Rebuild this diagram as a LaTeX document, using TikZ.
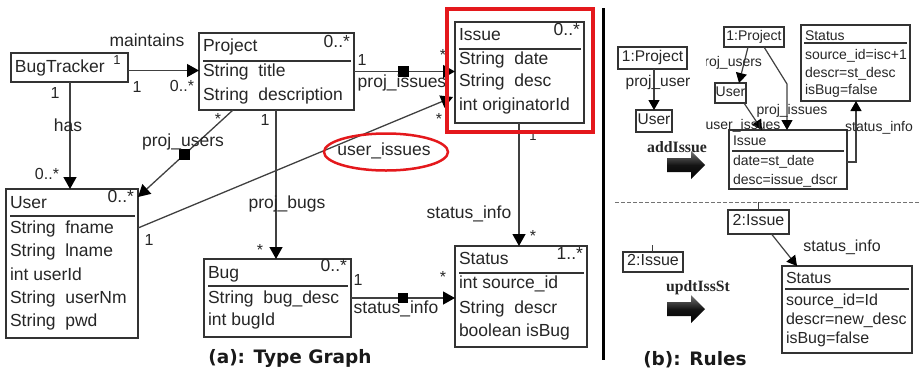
\documentclass[tikz,border=0pt]{standalone}
\usepackage{fontspec}
\setmainfont{Liberation Sans}
\newfontfamily\capfont{DejaVu Sans}
\newfontfamily\rulefont{Liberation Serif}
\usetikzlibrary{arrows.meta,calc,shapes.geometric}

\newcommand\fsz[1]{\fontsize{#1pt}{#1pt}\selectfont}
\newcommand\gap{\hspace{0.55em}}
\definecolor{mark}{RGB}{228,24,28}

\begin{document}
\begin{tikzpicture}[x=1pt,y=-1pt,
  box/.style={draw=black!80, line width=1.3pt, inner sep=0pt, outer sep=0pt,
              anchor=north west, fill=white},
  rbox/.style={draw=black!80, line width=1.2pt, inner sep=0pt, outer sep=0pt,
               fill=white, text=black!85, text height=0.72em, text depth=0pt},
  sepline/.style={draw=black!80, line width=1.2pt},
  txt/.style={inner sep=0pt, outer sep=0pt, text height=0.72em, text depth=0pt,
              text=black!85, font=\fsz{17.5}},
  mult/.style={txt, font=\fsz{16}},
  rtxt/.style={txt, font=\fsz{14}},
  btxt/.style={txt, font=\fsz{16}},
  assoc/.style={draw=black!75, line width=1.3pt,
                -{Triangle[length=12pt,width=13pt,fill=black,color=black]}},
  rarr/.style={draw=black!75, line width=1.2pt,
               -{Triangle[length=10pt,width=11pt,fill=black,color=black]}},
  sq/.style={fill=black, inner sep=0pt, minimum size=10.5pt},
  fat/.style={top color=black!55, bottom color=black, middle color=black!92},
  caption/.style={inner sep=0pt, font=\capfont\bfseries\fsz{18.5}, text=black!90}
]
\useasboundingbox (0,0) rectangle (919,373);

% ---------------- (a) type graph: classes ----------------
% BugTracker
\node[box, minimum width=117pt, minimum height=29pt] (bt) at (11,53) {};
\node[txt, anchor=west] (bt-t) at (15,69) {BugTracker};

% Project
\node[box, minimum width=155pt, minimum height=77pt] (pj) at (199,33) {};
\node[txt, anchor=west] (pj-t) at (203,48) {Project};
\node[txt, anchor=east] (pj-m) at (350,44) {0..*};
\draw[sepline] (203,61) -- (351,61);
\node[txt, anchor=west] (pj-1) at (203,73) {String\gap title};
\node[txt, anchor=west] (pj-2) at (203,97) {String\gap description};

% Issue
\node[box, minimum width=129pt, minimum height=101pt] (is) at (455,22) {};
\node[txt, anchor=west] (is-t) at (459,37) {Issue};
\node[txt, anchor=east] (is-m) at (580,32) {0..*};
\draw[sepline] (459,49) -- (581,49);
\node[txt, anchor=west] (is-1) at (459,61) {String\gap date};
\node[txt, anchor=west] (is-2) at (459,83) {String\gap desc};
\node[txt, anchor=west] (is-3) at (459,107) {int originatorId};

% User
\node[box, minimum width=132pt, minimum height=149pt] (us) at (6,189) {};
\node[txt, anchor=west] (us-t) at (10,205) {User};
\node[txt, anchor=east] (us-m) at (134,199) {0..*};
\draw[sepline] (10,216) -- (135,216);
\node[txt, anchor=west] (us-1) at (10,230) {String\gap fname};
\node[txt, anchor=west] (us-2) at (10,253) {String\gap lname};
\node[txt, anchor=west] (us-3) at (10,277) {int userId};
\node[txt, anchor=west] (us-4) at (10,300) {String\gap userNm};
\node[txt, anchor=west] (us-5) at (10,323) {String\gap pwd};

% Bug
\node[box, minimum width=147pt, minimum height=78pt] (bg) at (204,259) {};
\node[txt, anchor=west] (bg-t) at (208,275) {Bug};
\node[txt, anchor=east] (bg-m) at (347,268) {0..*};
\draw[sepline] (208,286) -- (348,286);
\node[txt, anchor=west] (bg-1) at (208,300) {String\gap bug\_desc};
\node[txt, anchor=west] (bg-2) at (208,322) {int bugId};

% Status
\node[box, minimum width=132pt, minimum height=101pt] (st) at (455,246) {};
\node[txt, anchor=west] (st-t) at (459,261) {Status};
\node[txt, anchor=east] (st-m) at (583,256) {1..*};
\draw[sepline] (459,273) -- (584,273);
\node[txt, anchor=west] (st-1) at (459,285) {int source\_id};
\node[txt, anchor=west] (st-2) at (459,310) {String\gap descr};
\node[txt, anchor=west] (st-3) at (459,333) {boolean isBug};

% ---------------- (a) type graph: associations ----------------
\draw[assoc] ([yshift=-3pt]bt.east) -- ([yshift=-3pt]bt.east -| pj.west);
\coordinate (btu) at ($(bt.south west)+(59,0)$);
\draw[assoc] (btu) -- (btu |- us.north);
\draw[assoc] (pj.east) -- (pj.east -| is.west) node[sq, pos=0.49] (sq-pi) {};
\draw[assoc] ($(pj.south west)+(34,0)$) -- ($(us.north east)+(0,8)$) node[sq, pos=0.51] (sq-pu) {};
\coordinate (pjb) at ($(pj.south west)+(77,0)$);
\draw[assoc] (pjb) -- (pjb |- bg.north);
\draw[assoc] ($(us.north east)+(0,39)$) -- ($(is.south west)+(-2,-26)$);
\coordinate (isb) at ($(is.south west)+(64,0)$);
\draw[assoc] (isb) -- (isb |- st.north);
\draw[assoc] (bg.east) -- (bg.east -| st.west) node[sq, pos=0.5] (sq-bs) {};

% role names and multiplicities
\node[txt] (l-maint) at (147,43) {maintains};
\node[mult, font=\fsz{13}] (l-bt1) at (117,61) {1};
\node[mult] (l-m1) at (137,89) {1};
\node[mult] (l-m2) at (182,88) {0..*};
\node[mult] (l-h1) at (55,95) {1};
\node[txt] (l-has) at (68,128) {has};
\node[mult] (l-h2) at (47,176) {0..*};
\node[mult] (l-pi1) at (362,62) {1};
\node[txt] (l-pi) at (402,84) {proj\_issues};
\node[mult] (l-pi2) at (443,57) {*};
\node[mult] (l-ui2) at (439,121) {*};
\node[mult] (l-pu1) at (218,121) {*};
\node[txt] (l-pu) at (183,143) {proj\_users};
\node[mult] (l-pb1) at (265,122) {1};
\node[txt] (l-pb) at (287,205) {proj\_bugs};
\node[mult] (l-pb2) at (260,252) {*};
\node[mult] (l-ui1) at (149,242) {1};
\node[txt] (l-ui) at (384,152) {user\_issues};
\node[draw=mark, line width=2.5pt, ellipse, inner sep=0pt,
      minimum width=124pt, minimum height=37pt] (ell) at (386,152) {};
\node[mult, font=\fsz{13}] (l-si1) at (533,137) {1};
\node[txt] (l-si) at (469,215) {status\_info};
\node[mult] (l-si2) at (533,238) {*};
\node[mult] (l-bs1) at (358,282) {1};
\node[mult] (l-bs2) at (443,279) {*};
\node[txt] (l-bs) at (396,310) {status\_info};

% highlight frame round the Issue class
\node[draw=mark, line width=4pt, inner sep=0pt, outer sep=0pt, anchor=north west,
      minimum width=146pt, minimum height=123pt] (hl) at (447,9) {};

\node[caption] (cap-a) at (290,358) {(a): Type Graph};

% divider between the two parts
\draw[line width=3pt, black] (603,8) -- (603,360);

% ---------------- (b) rules ----------------
\draw[black!55, line width=1pt, dash pattern=on 4pt off 2pt] (615,202) -- (919,202);

% addIssue: left-hand side
\node[rbox, minimum width=69pt, minimum height=22pt, font=\fsz{15.5}] (lp) at (652.5,58) {1:Project};
\node[rbox, minimum width=36pt, minimum height=22pt, font=\fsz{15.5}] (lu) at (654,121) {User};
\draw[rarr] (lu.north |- lp.south) -- (lu.north);
\node[txt, font=\fsz{15.5}] (l-lpu) at (658,83) {proj\_user};
\node[inner sep=0pt, font=\rulefont\bfseries\fsz{15.8}, text=black!85] (r-add) at (677,147) {addIssue};
\shade[fat] (667,158) -- (691,158) -- (691,151) -- (705,165) -- (691,179) -- (691,172) -- (667,172) -- cycle;

% addIssue: right-hand side
\node[rbox, minimum width=60pt, minimum height=20pt, font=\fsz{14}] (rp) at (754,37) {1:Project};
\node[rbox, minimum width=31pt, minimum height=20pt, font=\fsz{14}] (ru) at (730.5,93) {User};
\node[box, minimum width=118pt, minimum height=59pt, line width=1.2pt] (ri) at (729,130) {};
\node[rtxt, anchor=west] (ri-t) at (733,142) {Issue};
\draw[sepline] (732,151) -- (844,151);
\node[rtxt, anchor=west] (ri-1) at (733,162) {date=st\_date};
\node[rtxt, anchor=west] (ri-2) at (733,181) {desc=issue\_dscr};
\node[box, minimum width=109pt, minimum height=76pt, line width=1.2pt] (rs) at (801,25) {};
\node[rtxt, anchor=west] (rs-t) at (805,37) {Status};
\draw[sepline] (804,43) -- (907,43);
\node[rtxt, anchor=west] (rs-1) at (805,56) {source\_id=isc+1};
\node[rtxt, anchor=west] (rs-2) at (805,74) {descr=st\_desc};
\node[rtxt, anchor=west] (rs-3) at (805,91) {isBug=false};

\draw[rarr] ($(rp.south)+(-6,0)$) -- ($(ru.north)+(8.5,0)$);
\coordinate (pib) at (787,84);
\draw[rarr] ($(rp.south)+(10,0)$) -- (pib) -- (pib |- ri.north);
\draw[rarr] ($(ru.south)+(13.5,0)$) -- ($(ri.north west)+(33,0)$);
\coordinate (sib) at ($(ri.north east)+(9,32)$);
\draw[rarr] ($(ri.north east)+(0,32)$) -- (sib) -- (sib |- rs.south);

\begin{scope}
  \clip (706,50) rectangle (775,76);
  \node[rtxt, anchor=east] (r-pu) at (762,63) {proj\_users};
\end{scope}
\node[rtxt] (r-pi) at (792,111) {proj\_issues};
\node[rtxt] (r-ui) at (743,126) {user\_issues};
\node[rtxt] (r-si) at (879,128) {status\_info};

% updtIssSt
\node[rbox, minimum width=60pt, minimum height=20pt, font=\fsz{16}] (l2i) at (653,262) {2:Issue};
\draw[black!75, line width=1pt] ($(l2i.north)+(-1,0)$) -- ++(0,-7);
\node[inner sep=0pt, font=\rulefont\bfseries\fsz{15.7}, text=black!85] (r-upd) at (698,288) {updtIssSt};
\shade[fat] (667,302) -- (691,302) -- (691,295) -- (705,309) -- (691,323) -- (691,316) -- (667,316) -- cycle;

\node[rbox, minimum width=61pt, minimum height=24pt, font=\fsz{16}] (b2i) at (758.5,222) {2:Issue};
\draw[black!75, line width=1pt] (b2i.north) -- ++(0,-8);
\node[box, minimum width=130pt, minimum height=87pt, line width=1.2pt] (bs) at (782,266) {};
\node[btxt, anchor=west] (bs-t) at (786,280) {Status};
\draw[sepline] (785,289) -- (909,289);
\node[btxt, anchor=west] (bs-1) at (786,302) {source\_id=Id};
\node[btxt, anchor=west] (bs-2) at (786,321) {descr=new\_desc};
\node[btxt, anchor=west] (bs-3) at (786,340) {isBug=false};
\draw[rarr] ($(b2i.south)+(13,0)$) -- ($(bs.north west)+(15,0)$);
\node[btxt] (b-si) at (842,248) {status\_info};

\node[caption] (cap-b) at (695,360) {(b): Rules};
\end{tikzpicture}
\end{document}
